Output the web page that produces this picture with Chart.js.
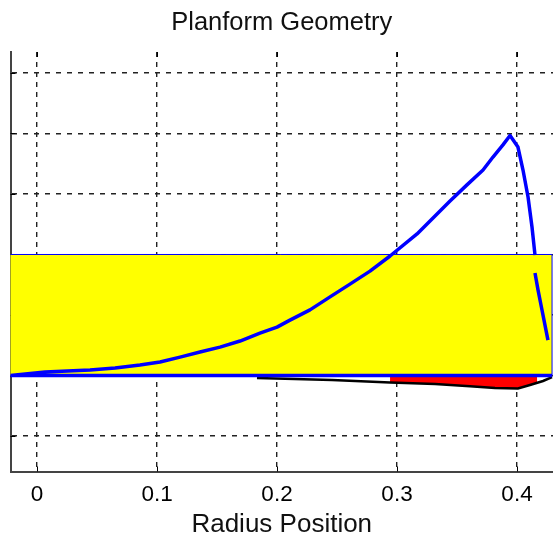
<!DOCTYPE html>
<html><head><meta charset="utf-8">
<script src="https://cdn.jsdelivr.net/npm/chart.js@4/dist/chart.umd.min.js"></script>
<style>html,body{margin:0;padding:0;background:#fff;overflow:hidden;width:553px;height:542px}</style>
</head><body>
<canvas id="c" width="553" height="542" style="display:block;width:553px;height:542px"></canvas>
<script>
const titleText = 'Planform Geometry';
const xAxisTitle = 'Radius Position';
const xTickValues = [0, 0.1, 0.2, 0.3, 0.4];
const xTickLabels = ['0', '0.1', '0.2', '0.3', '0.4'];
const yGridValues = [-0.02, 0, 0.02, 0.04, 0.06, 0.08, 0.10];

// blade outline (blue)
const bladeX = [0.4292, -0.0221, 0.0067, 0.0442, 0.065, 0.0858, 0.1025, 0.1192, 0.1358, 0.1525, 0.1692, 0.1858, 0.2, 0.2108, 0.2275, 0.2442, 0.2608, 0.2775, 0.2942, 0.3167, 0.3442, 0.3583, 0.3717, 0.38, 0.3883, 0.3942, 0.4008, 0.405, 0.4092, 0.4125, 0.415, 0.415, 0.415, 0.4175, 0.42, 0.4225, 0.4258];
const bladeY = [0, 0, 0.0012, 0.0018, 0.0025, 0.0035, 0.0045, 0.0061, 0.0078, 0.0094, 0.0114, 0.0140, 0.0160, 0.0183, 0.0217, 0.0260, 0.0302, 0.0345, 0.0395, 0.0468, 0.0577, 0.0630, 0.0679, 0.0722, 0.0762, 0.0793, 0.0755, 0.0679, 0.0590, 0.0491, 0.0398, null, 0.0339, 0.0283, 0.0233, 0.0183, 0.0117];

// lower edge (black)
const lowerX = [0.1833, 0.2458, 0.2942, 0.3317, 0.3608, 0.3817, 0.4008, 0.4108, 0.4217, 0.4292];
const lowerY = [-0.0008, -0.0015, -0.0023, -0.0028, -0.0035, -0.0041, -0.0043, -0.0031, -0.0018, -0.0005];

// red region
const redX = [0.2942, 0.4167, 0.4167, 0.4108, 0.4008, 0.3817, 0.3608, 0.3317, 0.2942, 0.2942];
const redY = [-0.0005, -0.0005, -0.0025, -0.0031, -0.0043, -0.0041, -0.0035, -0.0028, -0.0023, -0.0005];

// hub box (yellow)
const hubX = [-0.03, 0.4292, 0.4292, -0.03, -0.03];
const hubY = [0, 0, 0.04, 0.04, 0];

const pts = (xs, ys) => xs.map((x, i) => ({x: x, y: ys[i]}));
const FONT = '"Liberation Sans", Arial, sans-serif';

const innerTicks = {
  id: 'innerTicks',
  beforeDatasetsDraw(chart) {
    const {ctx, chartArea: a, scales: {x, y}} = chart;
    ctx.save();
    ctx.strokeStyle = '#000';
    ctx.lineWidth = 1;
    ctx.beginPath();
    xTickValues.forEach(v => {
      const p = Math.round(x.getPixelForValue(v)) + 0.5;
      ctx.moveTo(p, a.bottom); ctx.lineTo(p, a.bottom - 5);
      ctx.moveTo(p, a.top); ctx.lineTo(p, a.top + 5);
    });
    yGridValues.forEach(v => {
      const p = Math.round(y.getPixelForValue(v)) + 0.5;
      ctx.moveTo(a.left, p); ctx.lineTo(a.left + 5, p);
    });
    ctx.stroke();
    ctx.restore();
  }
};

new Chart(document.getElementById('c'), {
  type: 'line',
  data: {
    datasets: [
      {data: pts(bladeX, bladeY), borderColor: '#0000ff', borderWidth: 3.5, pointRadius: 0, fill: false, spanGaps: false, order: 1, clip: 0, borderJoinStyle: 'round'},
      {data: pts(lowerX, lowerY), borderColor: '#000000', borderWidth: 2.5, pointRadius: 0, fill: false, order: 2, clip: 0},
      {data: pts(redX, redY), borderColor: 'rgba(0,0,0,0)', borderWidth: 0, backgroundColor: '#ff0000', pointRadius: 0, fill: 'shape', order: 3, clip: 0},
      {data: pts(hubX, hubY), borderColor: '#0000ff', borderWidth: 1, backgroundColor: '#ffff00', pointRadius: 0, fill: 'shape', order: 4, clip: 0}
    ]
  },
  plugins: [innerTicks],
  options: {
    responsive: false,
    animation: false,
    devicePixelRatio: 1,
    layout: {padding: {left: 10.5, right: 0, top: 0, bottom: 0}},
    plugins: {
      legend: {display: false},
      tooltip: {enabled: false},
      title: {display: true, text: titleText, color: '#111', font: {family: FONT, size: 25.5, weight: 'normal', lineHeight: 1.2}, padding: {top: 8, bottom: 13.4}}
    },
    scales: {
      x: {
        type: 'linear', min: -0.0221, max: 0.43,
        afterBuildTicks: s => { s.ticks = xTickValues.map(v => ({value: v})); },
        afterFit: s => { s.height = 70.5; },
        ticks: {color: '#000', font: {family: FONT, size: 22.5}, padding: 10, maxRotation: 0, autoSkip: false,
          callback: (v, i) => xTickLabels[i]},
        grid: {color: '#222', lineWidth: 1.4, drawTicks: false},
        border: {display: true, color: '#444', width: 2, dash: [5, 5]},
        title: {display: true, text: xAxisTitle, color: '#111', font: {family: FONT, size: 26}, padding: {top: 0, bottom: 2}}
      },
      y: {
        type: 'linear', min: -0.0317, max: 0.1069,
        afterBuildTicks: s => { s.ticks = yGridValues.map(v => ({value: v})); },
        afterFit: s => { s.width = 0; },
        ticks: {display: false},
        grid: {color: '#222', lineWidth: 1.4, drawTicks: false},
        border: {display: true, color: '#444', width: 2, dash: [5, 6]}
      }
    }
  }
});
</script>
</body></html>
